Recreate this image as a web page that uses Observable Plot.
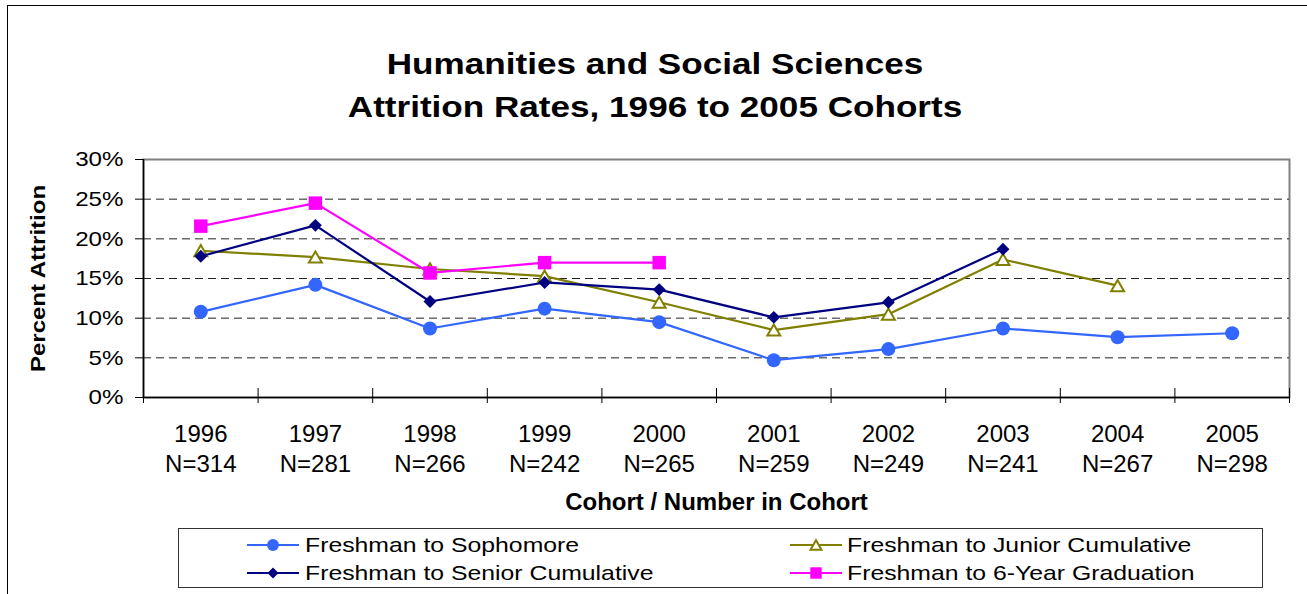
<!DOCTYPE html>
<html><head><meta charset="utf-8">
<script src="https://cdn.jsdelivr.net/npm/d3@7"></script>
<script src="https://cdn.jsdelivr.net/npm/@observablehq/plot@0.6"></script>
<style>
body{margin:0;background:#fff;}
#wrap{position:relative;width:1307px;height:594px;overflow:hidden;font-family:"Liberation Sans",Arial,sans-serif;color:#000;}
#border{position:absolute;left:7px;top:5px;width:1400px;height:700px;border-left:1px solid #000;border-top:1px solid #000;}
#title{position:absolute;left:0;top:42px;width:1310px;text-align:center;font-weight:bold;font-size:30px;line-height:43px;transform:scaleX(1.17);transform-origin:655px 0;}
#chart{position:absolute;left:0;top:130px;}
#legend{position:absolute;left:178px;top:528px;width:1083px;height:58px;border:1px solid #333;}
.item{position:absolute;height:28px;}
.item svg{position:absolute;left:0;top:6px;overflow:visible;}
.item span{position:absolute;top:0;font-size:21px;line-height:28px;white-space:nowrap;transform:scaleX(1.18);transform-origin:0 50%;}
</style></head><body>
<div id="wrap">
<div id="border"></div>
<div id="title">Humanities and Social Sciences<br>Attrition Rates, 1996 to 2005 Cohorts</div>
<div id="chart"></div>
<div id="legend"></div>
</div>
<script>
const years = [1996, 1997, 1998, 1999, 2000, 2001, 2002, 2003, 2004, 2005];
const cohortN = [314, 281, 266, 242, 265, 259, 249, 241, 267, 298];
const sophomore = [10.8, 14.2, 8.7, 11.2, 9.5, 4.7, 6.1, 8.7, 7.6, 8.1];
const junior = [18.5, 17.7, 16.2, 15.3, 12.0, 8.5, 10.5, 17.4, 14.1, null];
const senior = [17.8, 21.7, 12.1, 14.5, 13.6, 10.1, 12.0, 18.7, null, null];
const sixYear = [21.6, 24.5, 15.7, 17.0, 17.0, null, null, null, null, null];
const yTicks = [0, 5, 10, 15, 20, 25, 30];
const seriesNames = ["Freshman to Sophomore", "Freshman to Junior Cumulative", "Freshman to Senior Cumulative", "Freshman to 6-Year Graduation"];
const xTitle = "Cohort / Number in Cohort";
const yTitle = "Percent Attrition";

const series = [
  {name: seriesNames[0], values: sophomore, color: "#3366FF", symbol: "circle", r: 7, fill: "#3366FF", stroke: "none", sw: 0, dy: 0},
  {name: seriesNames[1], values: junior, color: "#808000", symbol: "triangle", r: 4.8, fill: "#fff", stroke: "#808000", sw: 2, dy: 1.8},
  {name: seriesNames[2], values: senior, color: "#000080", symbol: "diamond2", r: 5.8, fill: "#000080", stroke: "none", sw: 0, dy: 0},
  {name: seriesNames[3], values: sixYear, color: "#FF00FF", symbol: "square", r: 7.6, fill: "#FF00FF", stroke: "none", sw: 0, dy: 0}
];

const boundaries = years.map(y => y - 0.5).concat([years[years.length - 1] + 0.5]);

const seriesMarks = series.flatMap(s => {
  const rows = years.map((yr, i) => ({year: yr, value: s.values[i]})).filter(d => d.value != null);
  return [
    Plot.line(rows, {x: "year", y: "value", stroke: s.color, strokeWidth: 2.2}),
    Plot.dot(rows, {x: "year", y: "value", symbol: s.symbol, r: s.r, fill: s.fill, stroke: s.stroke, strokeWidth: s.sw, dy: s.dy})
  ];
});

const chart = Plot.plot({
  width: 1307,
  height: 390,
  marginLeft: 143,
  marginRight: 18,
  marginTop: 29,
  marginBottom: 123,
  x: {domain: [boundaries[0], boundaries[boundaries.length - 1]]},
  y: {domain: [0, 30]},
  style: {fontFamily: "'Liberation Sans', Arial, sans-serif", fontSize: "20px", color: "#000", background: "transparent", overflow: "visible"},
  marks: [
    Plot.frame({stroke: "#808080", strokeWidth: 2}),
    Plot.ruleY(yTicks.filter(t => t > 0 && t < 30), {stroke: "#222", strokeDasharray: "8,5"}),
    Plot.ruleY([0], {stroke: "#000", strokeWidth: 1.5}),
    Plot.ruleX([boundaries[0]], {stroke: "#000", strokeWidth: 1.5}),
    Plot.ruleX(boundaries, {y1: 0, y2: 0, insetTop: -9, insetBottom: -6, stroke: "#000"}),
    Plot.axisY({ticks: yTicks, tickFormat: d => d + "%", tickSize: 8, tickPadding: 12, fontSize: 21, label: null}),
    Plot.axisX({ticks: years, tickFormat: d => `${d}\nN=${cohortN[years.indexOf(d)]}`, tickSize: 0, tickPadding: 23, fontSize: 24, lineHeight: 1.25, label: null}),
    Plot.text([xTitle], {text: d => d, frameAnchor: "bottom", dy: 112, fontWeight: "bold", fontSize: 24}),
    Plot.text([yTitle], {text: d => d, frameAnchor: "left", dx: -105, rotate: -90, fontWeight: "bold", fontSize: 20}),
    ...seriesMarks
  ]
});
document.getElementById("chart").appendChild(chart);

function stretch(nodes, k, center) {
  nodes.forEach(n => {
    const len = n.getComputedTextLength();
    if (len > 0) {
      n.setAttribute("textLength", len * k);
      n.setAttribute("lengthAdjust", "spacingAndGlyphs");
      if (center) { n.setAttribute("text-anchor", "start"); n.setAttribute("x", -len * k / 2); }
    }
  });
}
stretch([...chart.querySelectorAll('[aria-label="y-axis tick label"] text')], 1.15, false);
stretch([...chart.querySelectorAll('text')].filter(t => t.textContent === yTitle), 1.2, true);

// legend
const legend = d3.select("#legend");
const pos = [
  {left: 68, top: 2, textLeft: 58},
  {left: 611, top: 2, textLeft: 57},
  {left: 68, top: 30, textLeft: 58},
  {left: 611, top: 30, textLeft: 57}
];
series.forEach((s, k) => {
  const p = pos[k];
  const item = legend.append("div").attr("class", "item").style("left", p.left + "px").style("top", p.top + "px");
  const svg = item.append("svg").attr("width", 52).attr("height", 16);
  svg.append("line").attr("x1", 0).attr("x2", 52).attr("y1", 8).attr("y2", 8).attr("stroke", s.color).attr("stroke-width", 2.2);
  const symType = {circle: d3.symbolCircle, triangle: d3.symbolTriangle, diamond2: d3.symbolDiamond2, square: d3.symbolSquare}[s.symbol];
  const rr = s.r * 0.85;
  svg.append("path").attr("d", d3.symbol(symType, Math.PI * rr * rr)())
    .attr("transform", `translate(26,${8 + s.dy * 0.85})`)
    .attr("fill", s.fill).attr("stroke", s.stroke === "none" ? null : s.stroke).attr("stroke-width", s.sw);
  item.append("span").style("left", p.textLeft + "px").text(s.name);
});
</script>
</body></html>
